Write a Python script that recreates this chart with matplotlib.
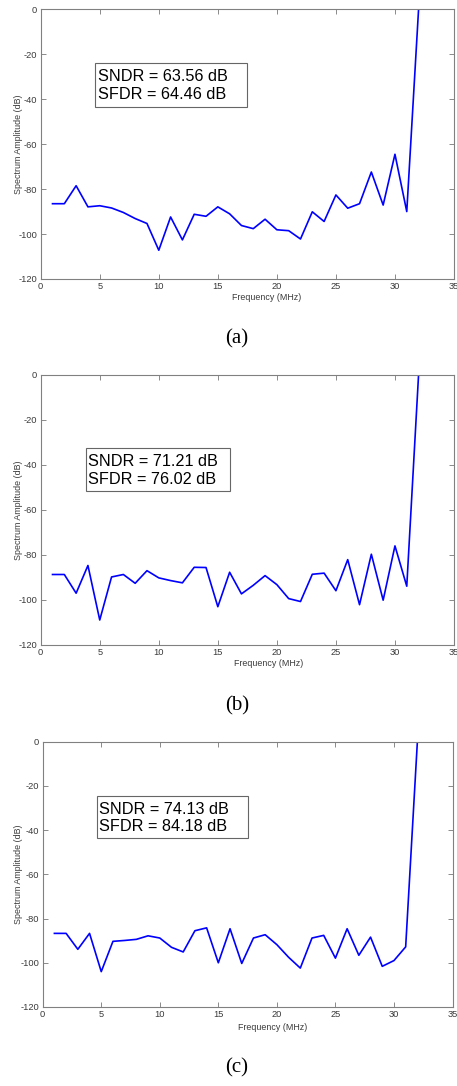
import matplotlib
matplotlib.use("Agg")
import matplotlib.pyplot as plt

plt.rcParams["axes.unicode_minus"] = False

freq = list(range(1, 33))

amp_a = [-86.5, -86.5, -78.5, -87.9, -87.4, -88.4, -90.4, -93.1, -95.3, -107.2,
         -92.4, -102.6, -91.2, -92.1, -87.9, -91.0, -96.2, -97.6, -93.4, -98.1,
         -98.5, -102.2, -90.1, -94.4, -82.6, -88.5, -86.5, -72.4, -87.1, -64.5,
         -90.0, 0.0]
amp_b = [-88.7, -88.7, -97.0, -84.7, -108.9, -89.8, -88.7, -92.6, -87.0, -90.2,
         -91.4, -92.4, -85.5, -85.6, -103.0, -87.7, -97.3, -93.5, -89.2, -93.2,
         -99.4, -100.7, -88.6, -88.1, -95.9, -82.1, -102.1, -79.7, -100.1, -76.0,
         -93.9, 0.0]
amp_c = [-86.7, -86.7, -93.9, -86.7, -104.0, -90.3, -89.9, -89.4, -87.8, -88.8,
         -93.0, -95.1, -85.5, -84.2, -100.0, -84.6, -100.3, -88.8, -87.3, -91.8,
         -97.5, -102.4, -88.8, -87.6, -97.9, -84.6, -96.6, -88.4, -101.6, -99.0,
         -92.8, 0.0]

annotations = [("SNDR = 63.56 dB", "SFDR = 64.46 dB"),
               ("SNDR = 71.21 dB", "SFDR = 76.02 dB"),
               ("SNDR = 74.13 dB", "SFDR = 84.18 dB")]
captions = ["(a)", "(b)", "(c)"]
xticks = [0, 5, 10, 15, 20, 25, 30, 35]
yticks = [0, -20, -40, -60, -80, -100, -120]

W, H = 457, 1086
fig = plt.figure(figsize=(W / 100, H / 100), dpi=100)

# pixel boxes: left, right, top, bottom
boxes = [(40.7, 454, 9.3, 279), (40.7, 454, 374.7, 645), (42.7, 452.5, 741.7, 1007)]
text_pos = [(95, 63.3, 246.7, 107.3), (85.7, 448.3, 230, 491), (96.7, 795.7, 248.3, 838.3)]
xlabel_px = [(267, 298), (269, 663.3), (273, 1027.3)]
cap_y = [339, 706, 1068]

series = [amp_a, amp_b, amp_c]
gray = "#3a3a3a"
for i in range(3):
    l, r, t, b = boxes[i]
    ax = fig.add_axes([l / W, 1 - b / H, (r - l) / W, (b - t) / H])
    ax.plot(freq, series[i], color="#0000ff", lw=1.2)
    ax.set_xlim(0, 35)
    ax.set_ylim(-120, 0)
    ax.set_xticks(xticks)
    ax.set_yticks(yticks)
    ax.tick_params(direction="in", top=True, right=True, length=3.5, width=0.6,
                   labelsize=6.7, colors=gray, pad=2.5)
    ax.tick_params(axis="both", color="#777777")
    for lab in ax.get_xticklabels() + ax.get_yticklabels():
        lab.set_fontfamily("Liberation Sans")
    for s in ax.spines.values():
        s.set_color("#808080")
        s.set_linewidth(0.8)
    ax.set_xlabel("Frequency (MHz)", fontsize=6.4, family="Liberation Sans",
                  color=gray, va="center", ha="center")
    ax.set_ylabel("Spectrum Amplitude (dB)", fontsize=6.4, family="Liberation Sans",
                  color=gray, va="center", ha="center")
    xl, yl = xlabel_px[i]
    ax.xaxis.set_label_coords((xl - l) / (r - l), -(yl - b) / (b - t))
    ax.yaxis.set_label_coords((18.3 - l) / (r - l), 0.5)
    # annotation box
    x0, y0, x1, y1 = text_pos[i]
    ax.add_patch(plt.Rectangle((x0 / W, 1 - y1 / H), (x1 - x0) / W, (y1 - y0) / H,
                               transform=fig.transFigure, fill=False,
                               edgecolor="#666666", lw=0.8, zorder=5))
    fig.text((x0 + 2.7) / W, 1 - (y0 + 13.4) / H, annotations[i][0],
             fontsize=11.7, family="Liberation Sans", va="center", ha="left")
    fig.text((x0 + 2.7) / W, 1 - (y0 + 31.0) / H, annotations[i][1],
             fontsize=11.7, family="Liberation Sans", va="center", ha="left")
    fig.text(237 / W, 1 - cap_y[i] / H, captions[i], fontsize=15,
             family="Liberation Serif", ha="center", va="center")

fig.savefig("out.png", dpi=100)
